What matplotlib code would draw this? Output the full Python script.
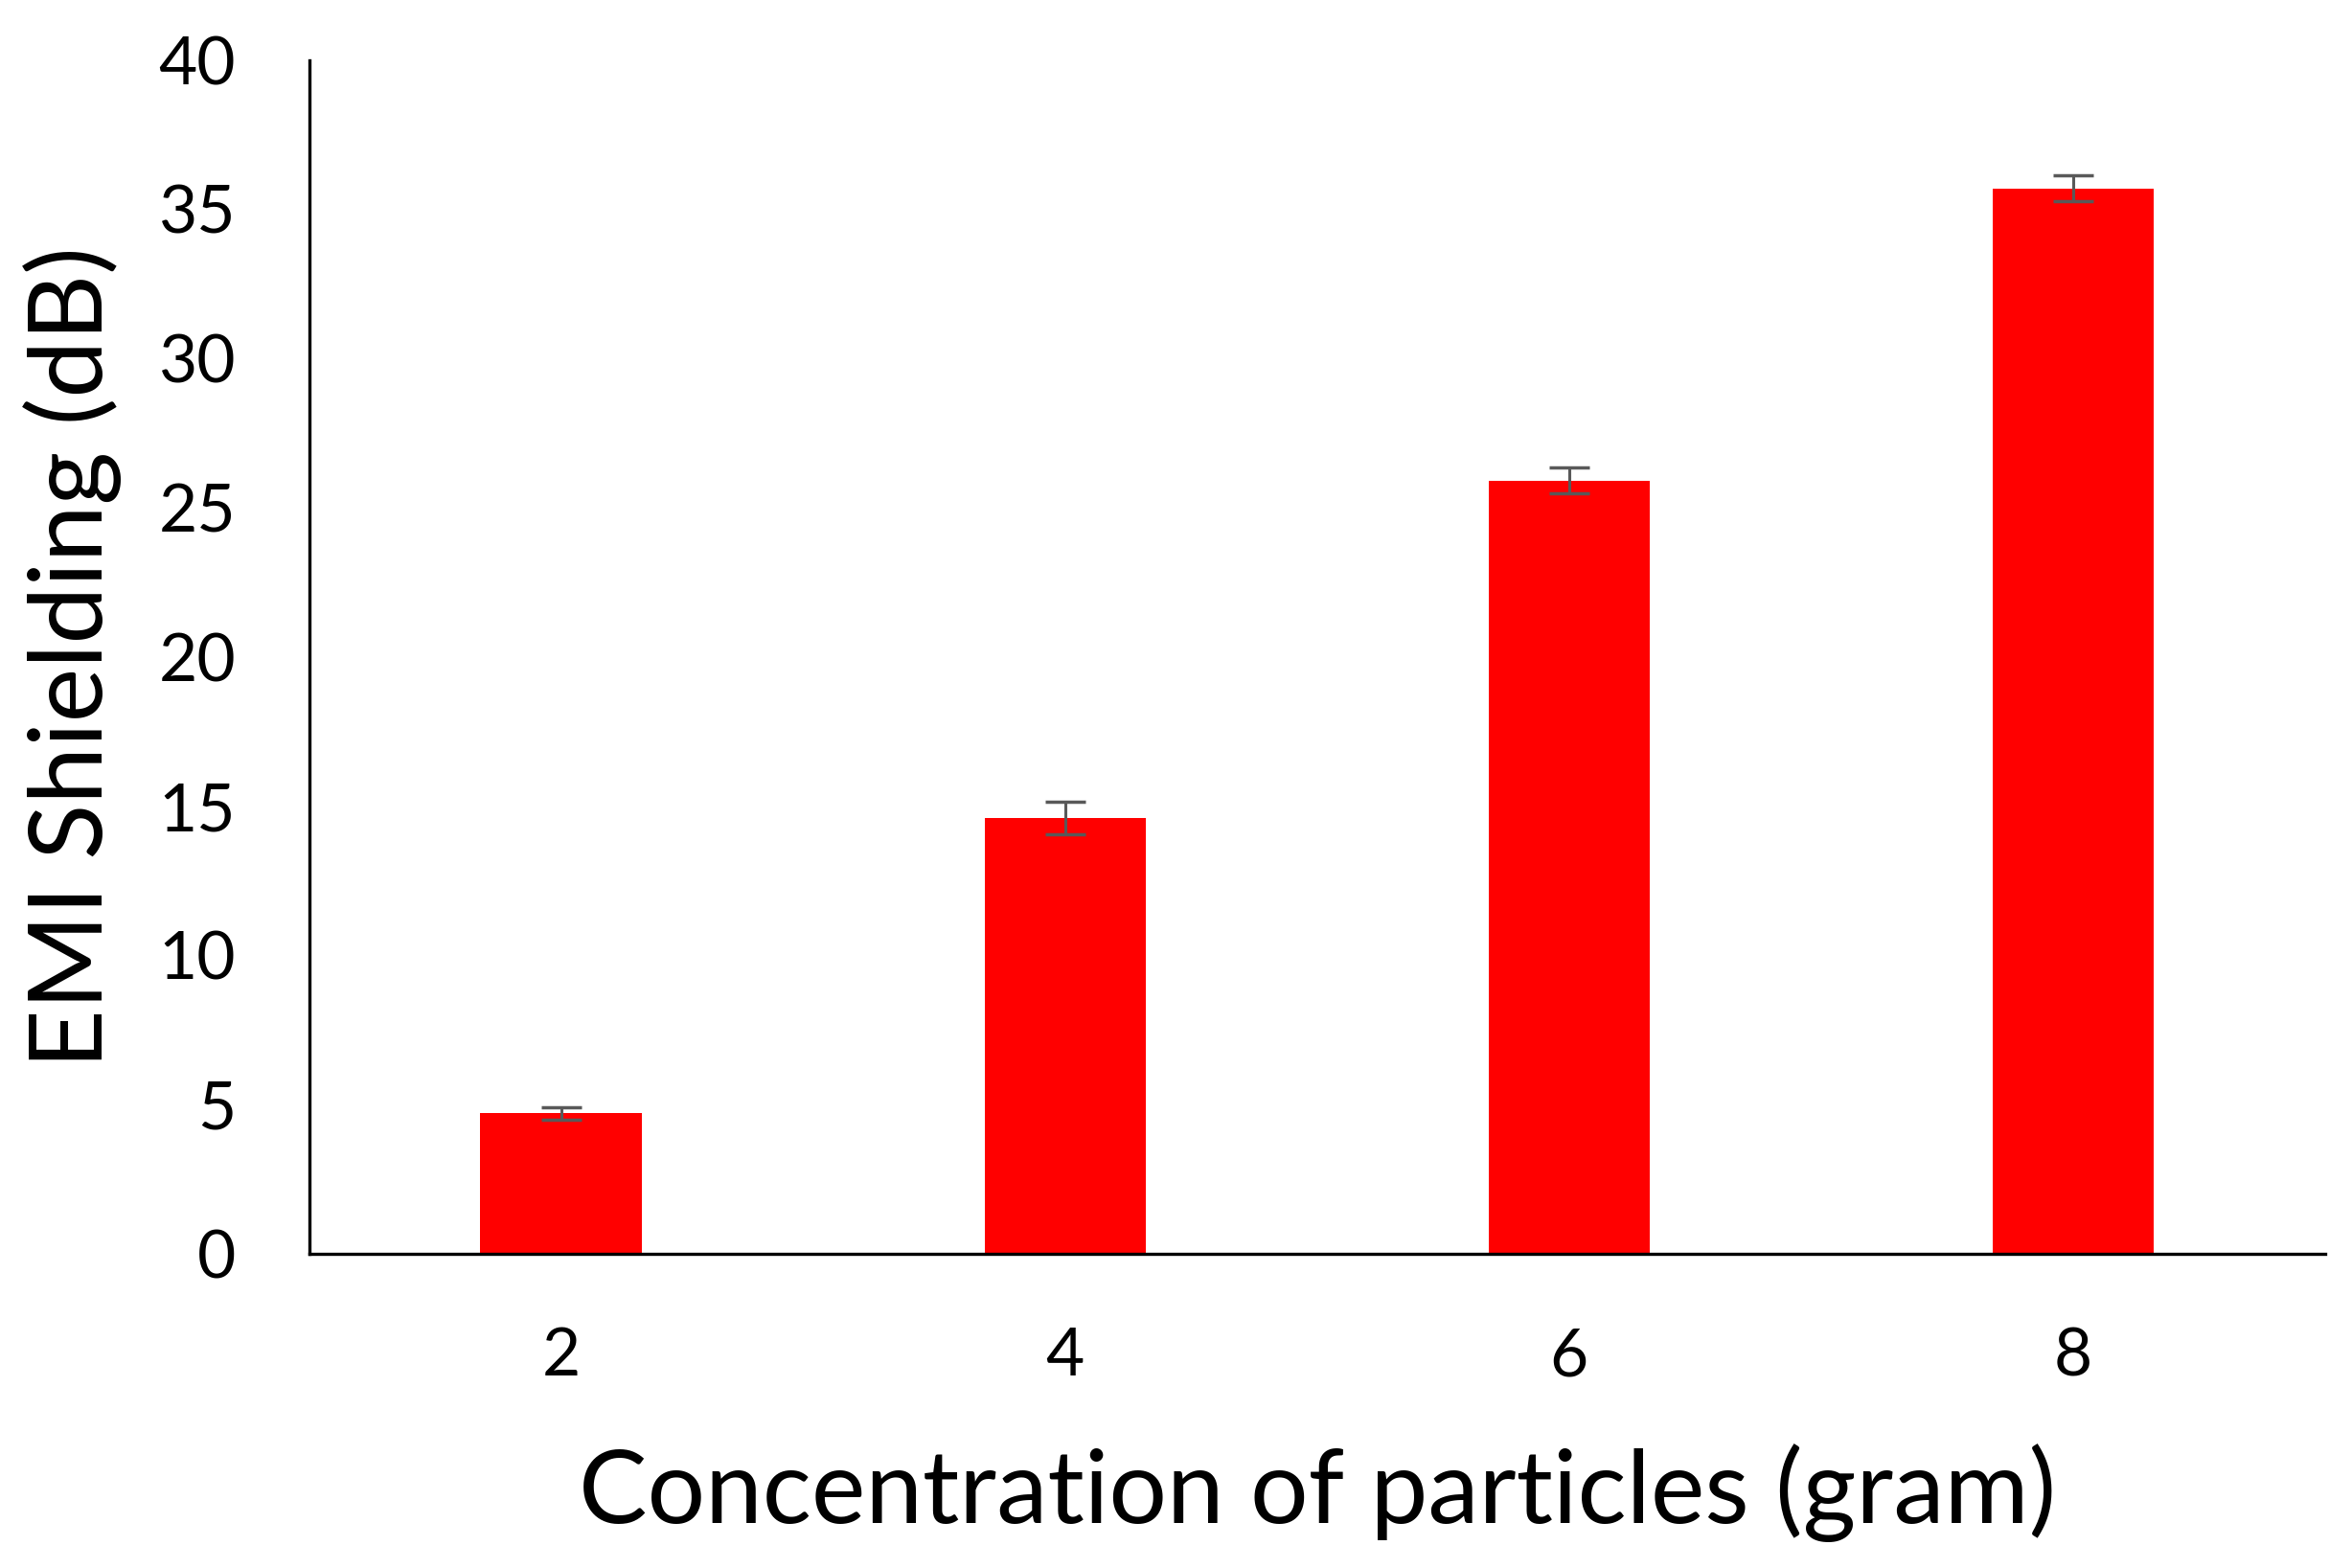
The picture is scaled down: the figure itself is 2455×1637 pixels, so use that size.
import matplotlib
matplotlib.use("Agg")
import matplotlib.pyplot as plt

categories = ["2", "4", "6", "8"]
values = [4.7, 14.6, 25.9, 35.7]
errors = [0.22, 0.55, 0.43, 0.43]
yticks = [0, 5, 10, 15, 20, 25, 30, 35, 40]

plt.rcParams['font.family'] = ['Lato', 'DejaVu Sans']

fig = plt.figure(figsize=(24.55, 16.37), dpi=100)
ax = fig.add_axes([0.1314, 0.2004, 0.8572, 0.7614])

x = range(len(categories))
ax.bar(x, values, width=0.32, color="#FF0000", zorder=2)
ax.errorbar(x, values, yerr=errors, fmt="none", ecolor="#595959",
            elinewidth=2.2, capsize=15, capthick=2.5, zorder=3)

ax.set_xlim(-0.5, 3.5)
ax.set_ylim(0, 40)
ax.set_yticks(yticks)
ax.set_yticklabels([str(v) for v in yticks])
ax.set_xticks(list(x))
ax.set_xticklabels(categories)

ax.tick_params(axis="both", length=0, labelsize=50)
ax.tick_params(axis="y", pad=55)
ax.tick_params(axis="x", pad=55)

for s in ["top", "right"]:
    ax.spines[s].set_visible(False)
for s in ["left", "bottom"]:
    ax.spines[s].set_linewidth(2.4)
    ax.spines[s].set_color("black")

ax.set_xlabel("Concentration of particles (gram)", fontsize=77, labelpad=42)
ax.set_ylabel("EMI Shielding (dB)", fontsize=77, labelpad=28)

fig.savefig("out.png", dpi=100, facecolor="white")
